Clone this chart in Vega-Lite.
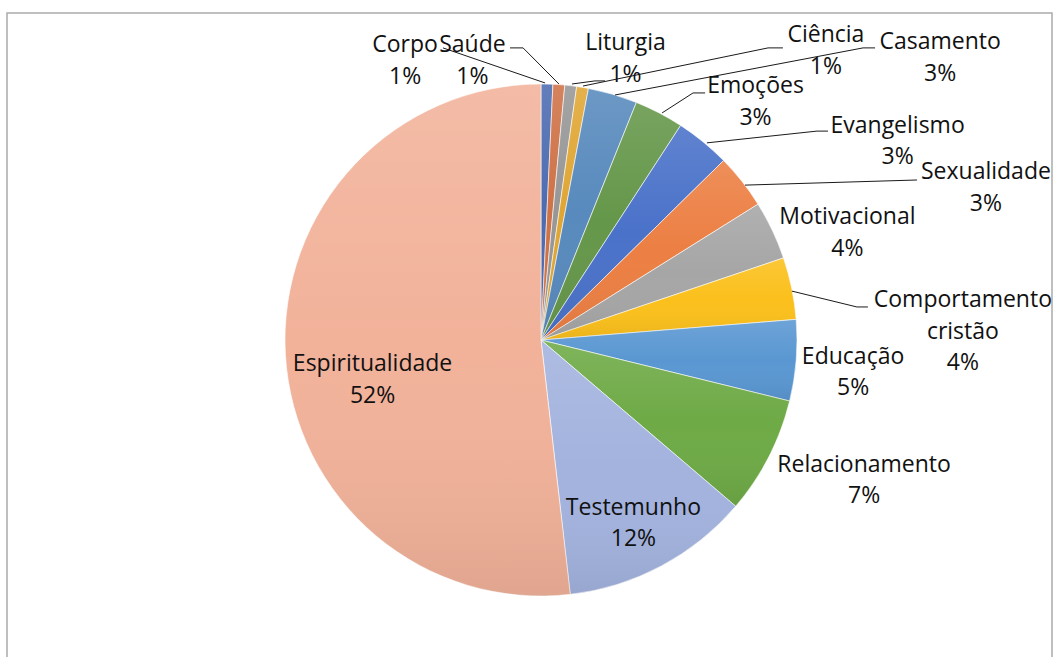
{
  "$schema": "https://vega.github.io/schema/vega-lite/v6.json",
  "width": 1045,
  "height": 660,
  "padding": {"left": 7, "top": 13, "right": 0, "bottom": 0},
  "background": "white",
  "config": {"view": {"stroke": "#ABABAB", "strokeWidth": 1.5}, "font": "Open Sans"},
  "datasets": {
    "slices": [
      {"ord": 1, "category": "Corpo", "value": 0.74},
      {"ord": 2, "category": "Saúde", "value": 0.74},
      {"ord": 3, "category": "Liturgia", "value": 0.74},
      {"ord": 4, "category": "Ciência", "value": 0.74},
      {"ord": 5, "category": "Casamento", "value": 3.1},
      {"ord": 6, "category": "Emoções", "value": 3.1},
      {"ord": 7, "category": "Evangelismo", "value": 3.45},
      {"ord": 8, "category": "Sexualidade", "value": 3.45},
      {"ord": 9, "category": "Motivacional", "value": 3.7},
      {"ord": 10, "category": "Comportamento cristão", "value": 3.9},
      {"ord": 11, "category": "Educação", "value": 5.1},
      {"ord": 12, "category": "Relacionamento", "value": 7.4},
      {"ord": 13, "category": "Testemunho", "value": 11.9},
      {"ord": 14, "category": "Espiritualidade", "value": 51.7}
    ],
    "leaders": [
      {"category": "Corpo", "x": -0.383, "y": 1.141, "x2": 0.016, "y2": 1.004},
      {"category": "Saúde", "x": -0.121, "y": 1.141, "x2": -0.070, "y2": 1.141},
      {"category": "Saúde", "x": -0.070, "y": 1.141, "x2": 0.070, "y2": 1.0},
      {"category": "Liturgia", "x": 0.121, "y": 1.0, "x2": 0.211, "y2": 1.012},
      {"category": "Liturgia", "x": 0.211, "y": 1.012, "x2": 0.250, "y2": 1.012},
      {"category": "Ciência", "x": 0.164, "y": 0.992, "x2": 0.887, "y2": 1.141},
      {"category": "Ciência", "x": 0.887, "y": 1.141, "x2": 0.945, "y2": 1.141},
      {"category": "Casamento", "x": 0.289, "y": 0.957, "x2": 1.258, "y2": 1.141},
      {"category": "Casamento", "x": 1.258, "y": 1.141, "x2": 1.305, "y2": 1.141},
      {"category": "Emoções", "x": 0.473, "y": 0.887, "x2": 0.594, "y2": 0.965},
      {"category": "Emoções", "x": 0.594, "y": 0.965, "x2": 0.641, "y2": 0.965},
      {"category": "Evangelismo", "x": 0.648, "y": 0.770, "x2": 1.078, "y2": 0.816},
      {"category": "Evangelismo", "x": 1.078, "y": 0.816, "x2": 1.121, "y2": 0.816},
      {"category": "Sexualidade", "x": 0.797, "y": 0.605, "x2": 1.469, "y2": 0.625},
      {"category": "Comportamento cristão", "x": 0.980, "y": 0.191, "x2": 1.234, "y2": 0.129},
      {"category": "Comportamento cristão", "x": 1.234, "y": 0.129, "x2": 1.277, "y2": 0.129}
    ],
    "labels": [
      {"category": "Corpo", "lines": ["Corpo", "1%"], "lx": -0.531, "ly": 1.152},
      {"category": "Saúde", "lines": ["Saúde", "1%"], "lx": -0.268, "ly": 1.152},
      {"category": "Liturgia", "lines": ["Liturgia", "1%"], "lx": 0.330, "ly": 1.160},
      {"category": "Ciência", "lines": ["Ciência", "1%"], "lx": 1.113, "ly": 1.191},
      {"category": "Casamento", "lines": ["Casamento", "3%"], "lx": 1.559, "ly": 1.164},
      {"category": "Emoções", "lines": ["Emoções", "3%"], "lx": 0.838, "ly": 0.992},
      {"category": "Evangelismo", "lines": ["Evangelismo", "3%"], "lx": 1.393, "ly": 0.836},
      {"category": "Sexualidade", "lines": ["Sexualidade", "3%"], "lx": 1.738, "ly": 0.656},
      {"category": "Motivacional", "lines": ["Motivacional", "4%"], "lx": 1.197, "ly": 0.480},
      {"category": "Comportamento cristão", "lines": ["Comportamento", "cristão", "4%"], "lx": 1.648, "ly": 0.156},
      {"category": "Educação", "lines": ["Educação", "5%"], "lx": 1.219, "ly": -0.066},
      {"category": "Relacionamento", "lines": ["Relacionamento", "7%"], "lx": 1.262, "ly": -0.488},
      {"category": "Testemunho", "lines": ["Testemunho", "12%"], "lx": 0.361, "ly": -0.656},
      {"category": "Espiritualidade", "lines": ["Espiritualidade", "52%"], "lx": -0.658, "ly": -0.094}
    ]
  },
  "layer": [
    {
      "data": {"name": "slices"},
      "mark": {"type": "arc", "outerRadius": 256, "stroke": "#ffffff", "strokeWidth": 0.6},
      "encoding": {
        "x": {"datum": 0, "type": "quantitative", "scale": {"domain": [-2.0859, 1.9961], "nice": false, "zero": false}, "axis": null},
        "y": {"datum": 0, "type": "quantitative", "scale": {"domain": [-1.3008, 1.2773], "nice": false, "zero": false}, "axis": null},
        "theta": {"field": "value", "type": "quantitative", "stack": true},
        "order": {"field": "ord", "type": "quantitative"},
        "color": {
          "field": "category",
          "type": "nominal",
          "legend": null,
          "scale": {
            "domain": ["Corpo", "Saúde", "Liturgia", "Ciência", "Casamento", "Emoções", "Evangelismo", "Sexualidade", "Motivacional", "Comportamento cristão", "Educação", "Relacionamento", "Testemunho", "Espiritualidade"],
            "range": ["#4D6CB1", "#CF7247", "#979797", "#E0A634", "#588ABD", "#65974A", "#4A72C9", "#EC7F43", "#A6A6A6", "#FBC01C", "#5A97D2", "#6EAA46", "#A3B3DE", "#F2B29A"]
          }
        }
      }
    },
    {
      "data": {"name": "slices"},
      "mark": {
        "type": "arc",
        "outerRadius": 256,
        "strokeWidth": 0,
        "fill": {"gradient": "linear", "x1": 0, "y1": 0, "x2": 0, "y2": 1, "stops": [{"offset": 0, "color": "rgba(255,255,255,0.12)"}, {"offset": 0.5, "color": "rgba(255,255,255,0)"}, {"offset": 1, "color": "rgba(0,0,0,0.07)"}]}
      },
      "encoding": {
        "x": {"datum": 0, "type": "quantitative"},
        "y": {"datum": 0, "type": "quantitative"},
        "theta": {"field": "value", "type": "quantitative", "stack": true},
        "order": {"field": "ord", "type": "quantitative"}
      }
    },
    {
      "data": {"name": "leaders"},
      "mark": {"type": "rule", "color": "#1a1a1a", "strokeWidth": 1},
      "encoding": {
        "x": {"field": "x", "type": "quantitative"},
        "y": {"field": "y", "type": "quantitative"},
        "x2": {"field": "x2"},
        "y2": {"field": "y2"}
      }
    },
    {
      "data": {"name": "labels"},
      "mark": {"type": "text", "fontSize": 23, "lineHeight": 31.5, "align": "center", "baseline": "middle", "color": "#111111"},
      "encoding": {
        "x": {"field": "lx", "type": "quantitative"},
        "y": {"field": "ly", "type": "quantitative"},
        "text": {"field": "lines", "type": "nominal"}
      }
    }
  ]
}
